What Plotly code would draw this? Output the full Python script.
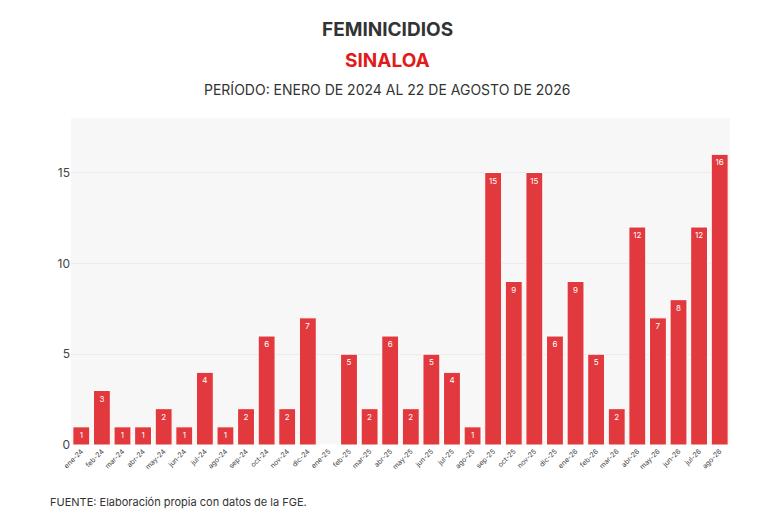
import plotly.graph_objects as go

months = ["ene-24", "feb-24", "mar-24", "abr-24", "may-24", "jun-24", "jul-24", "ago-24",
          "sep-24", "oct-24", "nov-24", "dic-24", "ene-25", "feb-25", "mar-25", "abr-25",
          "may-25", "jun-25", "jul-25", "ago-25", "sep-25", "oct-25", "nov-25", "dic-25",
          "ene-26", "feb-26", "mar-26", "abr-26", "may-26", "jun-26", "jul-26", "ago-26"]
casos = [1, 3, 1, 1, 2, 1, 4, 1, 2, 6, 2, 7, 0, 5, 2, 6,
         2, 5, 4, 1, 15, 9, 15, 6, 9, 5, 2, 12, 7, 8, 12, 16]

fig = go.Figure(go.Bar(
    x=months, y=casos,
    marker=dict(color="#E2393E", line=dict(color="white", width=1)),
    text=[str(v) if v > 0 else "" for v in casos],
    textposition="inside", insidetextanchor="end",
    textfont=dict(color="white", size=8, family="Inter"),
    width=0.82,
))

fig.update_layout(
    width=768, height=512,
    paper_bgcolor="white", plot_bgcolor="#F7F7F7",
    margin=dict(l=63, r=46, t=110, b=75),
    font=dict(family="Inter, Lato, sans-serif", color="#333"),
    showlegend=False,
    uniformtext=dict(minsize=7, mode="show"),
    xaxis=dict(tickangle=-45, tickfont=dict(size=7, color="#444"), showgrid=False),
    yaxis=dict(range=[0, 18], tickvals=[0, 5, 10, 15], gridcolor="#EBEBEB",
               tickfont=dict(size=12, color="#444"), zeroline=False, ticks=""),
    annotations=[
        dict(text="<b>FEMINICIDIOS</b>", x=0.48, y=1.272, xref="paper", yref="paper",
             showarrow=False, font=dict(size=19, color="#333"), yanchor="middle"),
        dict(text="<b>SINALOA</b>", x=0.48, y=1.177, xref="paper", yref="paper",
             showarrow=False, font=dict(size=19, color="#E01B1B"), yanchor="middle"),
        dict(text="PERÍODO: ENERO DE 2024 AL 22 DE AGOSTO DE 2026", x=0.48, y=1.086,
             xref="paper", yref="paper", showarrow=False,
             font=dict(size=14, color="#333"), yanchor="middle"),
        dict(text="FUENTE: Elaboración propia con datos de la FGE.", x=-0.035, y=-0.174,
             xref="paper", yref="paper", showarrow=False, xanchor="left",
             font=dict(size=11, color="#333"), yanchor="middle"),
    ],
)

fig.write_html("out.html")
